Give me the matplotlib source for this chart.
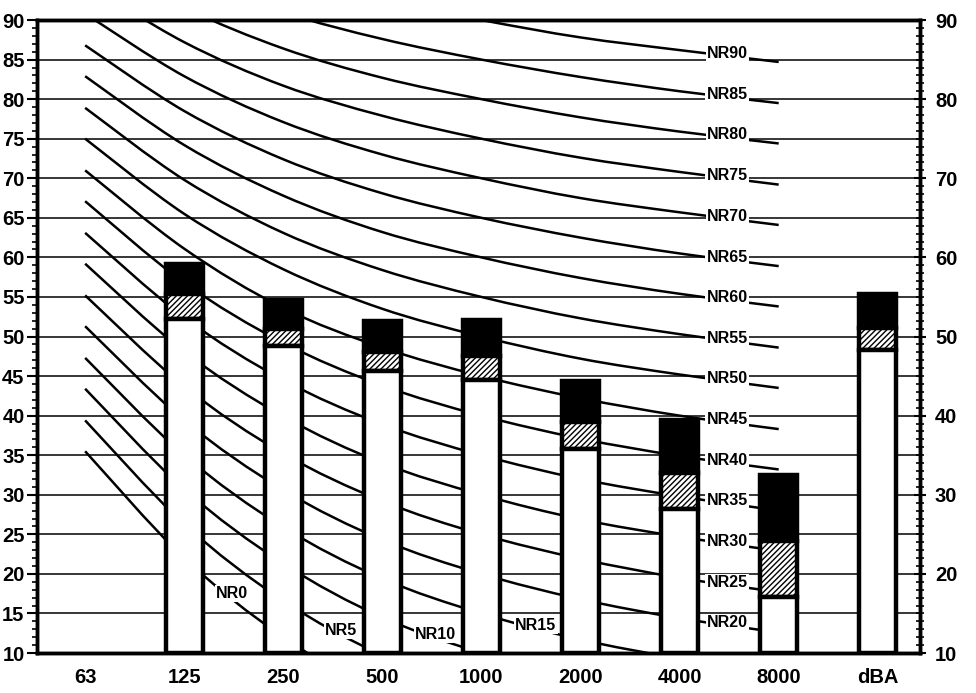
import matplotlib.pyplot as plt
from matplotlib.ticker import MultipleLocator
from matplotlib.path import Path
from matplotlib.patches import PathPatch
import numpy as np

plt.rcParams['font.family'] = ['Liberation Sans', 'DejaVu Sans']
plt.rcParams['hatch.linewidth'] = 1.0

# octave band categories
bands = ['63', '125', '250', '500', '1000', '2000', '4000', '8000', 'dBA']

# measured levels (stacked): white part top, hatched part top, black part top
white_top = [None, 52.2, 48.8, 45.6, 44.5, 35.8, 28.2, 17.1, 48.3]
hatch_top = [None, 55.4, 50.9, 48.1, 47.5, 39.2, 32.8, 24.1, 51.1]
black_top = [None, 59.2, 54.6, 51.9, 52.1, 44.4, 39.5, 32.5, 55.4]

# NR curve levels at 63..8000 Hz
nr_names = ['NR0', 'NR5', 'NR10', 'NR15', 'NR20', 'NR25', 'NR30', 'NR35', 'NR40',
            'NR45', 'NR50', 'NR55', 'NR60', 'NR65', 'NR70', 'NR75', 'NR80', 'NR85', 'NR90']
nr_levels = [
    [35.5, 22.0, 12.0, 4.8, 0.0, -3.5, -6.1, -8.0],
    [39.4, 26.3, 16.6, 9.7, 5.0, 1.6, -1.0, -2.8],
    [43.4, 30.7, 21.3, 14.5, 10.0, 6.6, 4.2, 2.3],
    [47.3, 35.0, 25.9, 19.4, 15.0, 11.7, 9.3, 7.4],
    [51.3, 39.4, 30.6, 24.3, 20.0, 16.8, 14.4, 12.6],
    [55.2, 43.7, 35.2, 29.2, 25.0, 21.9, 19.5, 17.7],
    [59.2, 48.1, 39.9, 34.0, 30.0, 26.9, 24.7, 22.9],
    [63.1, 52.4, 44.5, 38.9, 35.0, 32.0, 29.8, 28.0],
    [67.1, 56.8, 49.2, 43.8, 40.0, 37.1, 34.9, 33.2],
    [71.0, 61.1, 53.6, 48.6, 45.0, 42.2, 40.0, 38.3],
    [75.0, 65.5, 58.5, 53.5, 50.0, 47.2, 45.2, 43.5],
    [78.9, 69.8, 63.1, 58.4, 55.0, 52.3, 50.3, 48.6],
    [82.9, 74.2, 67.8, 63.2, 60.0, 57.4, 55.4, 53.8],
    [86.8, 78.5, 72.4, 68.1, 65.0, 62.5, 60.5, 58.9],
    [90.8, 82.9, 77.1, 73.0, 70.0, 67.5, 65.7, 64.1],
    [94.7, 87.2, 81.7, 77.9, 75.0, 72.6, 70.8, 69.2],
    [98.7, 91.6, 86.4, 82.7, 80.0, 77.7, 75.9, 74.4],
    [102.6, 95.9, 91.0, 87.6, 85.0, 82.8, 81.0, 79.5],
    [106.6, 100.3, 95.7, 92.5, 90.0, 87.8, 86.2, 84.7],
]


def smooth_path(xs, ys):
    # bezier path through the points (catmull-rom style handles)
    pts = np.column_stack([xs, ys])
    n = len(pts)
    verts = [pts[0]]
    codes = [Path.MOVETO]
    for k in range(n - 1):
        p0 = pts[max(k - 1, 0)]
        p1 = pts[k]
        p2 = pts[k + 1]
        p3 = pts[min(k + 2, n - 1)]
        verts += [p1 + (p2 - p0) / 6.0, p2 - (p3 - p1) / 6.0, p2]
        codes += [Path.CURVE4] * 3
    return Path(verts, codes)


fig = plt.figure(figsize=(9.76, 6.93), dpi=100)
ax = fig.add_axes([0.038, 0.0577, 0.905, 0.9134])
ax.set_xlim(-0.485, 8.43)
ax.set_ylim(10, 90)

# horizontal grid
for g in range(15, 90, 5):
    ax.axhline(g, color='black', lw=1.1, zorder=1)

# NR curves
xc = np.arange(8)
for i, (name, lev) in enumerate(zip(nr_names, nr_levels)):
    ax.add_patch(PathPatch(smooth_path(xc, lev), facecolor='none', edgecolor='black',
                           lw=1.8, zorder=2))
    if i == 0:
        lx = 1.48
    elif i == 1:
        lx = 2.58
    elif i == 2:
        lx = 3.54
    elif i == 3:
        lx = 4.55
    else:
        lx = 6.48
    ly = np.interp(lx, xc, lev)
    ax.text(lx, ly + 0.3, name, ha='center', va='center', fontsize=11.5, fontweight='bold',
            zorder=3, bbox=dict(facecolor='white', edgecolor='none', pad=0.8))

# stacked bars
bw = 0.37
for i, (w, h, t) in enumerate(zip(white_top, hatch_top, black_top)):
    if w is None:
        continue
    ax.bar(i, t - h, bottom=h, width=bw, color='black', edgecolor='black', lw=3.2, zorder=5)
    ax.bar(i, h - w, bottom=w, width=bw, color='white', edgecolor='black', lw=3.2,
           hatch='//////', zorder=5)
    ax.bar(i, w - 10, bottom=10, width=bw, color='white', edgecolor='black', lw=3.2, zorder=5)

for s in ax.spines.values():
    s.set_linewidth(2.5)
    s.set_zorder(6)

ax.set_xticks(range(len(bands)))
ax.set_xticklabels(bands, fontsize=14.5, fontweight='bold')
ax.tick_params(axis='x', length=0, pad=11)

ax.yaxis.set_major_locator(MultipleLocator(5))
ax.yaxis.set_minor_locator(MultipleLocator(1))
ax.tick_params(axis='y', which='major', direction='out', length=7, width=1.5,
               labelsize=14.5, pad=2)
ax.tick_params(axis='y', which='minor', direction='out', length=3.5, width=1.2)
for lab in ax.get_yticklabels():
    lab.set_fontweight('bold')

ax2 = ax.twinx()
ax2.set_ylim(10, 90)
ax2.yaxis.set_major_locator(MultipleLocator(10))
ax2.yaxis.set_minor_locator(MultipleLocator(1))
ax2.tick_params(axis='y', which='major', direction='inout', length=9, width=1.5,
                labelsize=14.5, pad=6)
ax2.tick_params(axis='y', which='minor', direction='inout', length=6, width=1.2)
for lab in ax2.get_yticklabels():
    lab.set_fontweight('bold')
for s in ax2.spines.values():
    s.set_linewidth(2.5)

fig.savefig('out.png', dpi=100)
